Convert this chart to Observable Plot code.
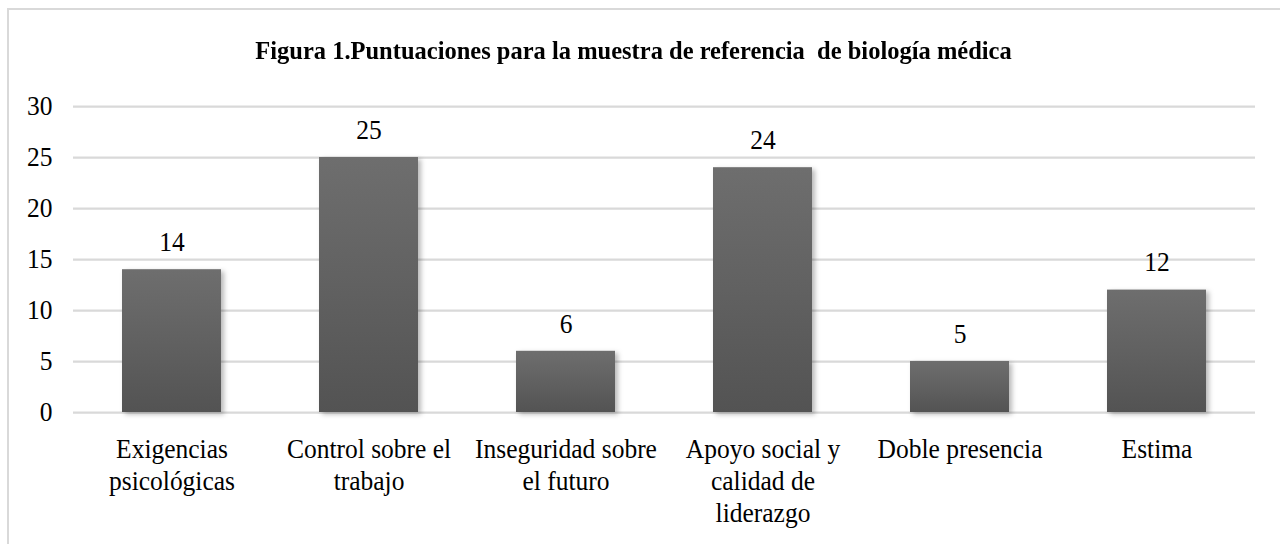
<!DOCTYPE html>
<html>
<head>
<meta charset="utf-8">
<script src="https://cdn.jsdelivr.net/npm/d3@7"></script>
<script src="https://cdn.jsdelivr.net/npm/@observablehq/plot@0.6"></script>
<style>
  html, body { margin: 0; padding: 0; background: #fff; }
  #page { position: relative; width: 1280px; height: 544px; overflow: hidden; }
  #frame { position: absolute; left: 7px; top: 8px; width: 1290px; height: 560px;
           border-left: 2.5px solid #d9d9d9; border-top: 2.5px solid #d9d9d9; box-sizing: border-box; pointer-events: none; }
  #title { position: absolute; left: 0; top: 0; width: 1280px; height: 80px; box-sizing: border-box;
           padding-top: 38px; padding-right: 13px; text-align: center;
           font-family: "Liberation Serif", "Times New Roman", serif; font-weight: bold; font-size: 24.5px;
           line-height: 25px; color: #000; white-space: pre; transform: scaleY(1.05); transform-origin: 0 59px; }
  #chart { position: absolute; left: 0; top: 80px; }
  #chart svg, #chart svg text { font-family: "Liberation Serif", "Times New Roman", serif !important; }
  g[aria-label="bar"] rect { filter: drop-shadow(3px 2px 2.5px rgba(0,0,0,0.28)); }
</style>
</head>
<body>
<div id="page">
  <div id="frame"></div>
  <div id="title">Figura 1.Puntuaciones para la muestra de referencia  de biología médica</div>
  <div id="chart"></div>
</div>
<script>
const categories = [
  "Exigencias psicológicas",
  "Control sobre el trabajo",
  "Inseguridad sobre el futuro",
  "Apoyo social y calidad de liderazgo",
  "Doble presencia",
  "Estima"
];
const tickLabels = [
  "Exigencias\npsicológicas",
  "Control sobre el\ntrabajo",
  "Inseguridad sobre\nel futuro",
  "Apoyo social y\ncalidad de\nliderazgo",
  "Doble presencia",
  "Estima"
];
const values = [14, 25, 6, 24, 5, 12];
const yTicks = [0, 5, 10, 15, 20, 25, 30];

const data = categories.map((c, i) => ({category: c, value: values[i]}));
const labelOf = new Map(categories.map((c, i) => [c, tickLabels[i]]));

const s = 1.09;          // vertical stretch of the reference
const H = 464;           // css height of svg
const h = H / s;         // internal height
const yTopCss = 26, yBotCss = 332;
const serif = "Liberation Serif";
const fs = 25.5;

const plot = Plot.plot({
  width: 1280,
  height: h,
  marginLeft: 73,
  marginRight: 25,
  marginTop: yTopCss / s,
  marginBottom: h - yBotCss / s,
  style: { fontFamily: serif, fontSize: fs + "px", color: "#000", background: "transparent" },
  x: { domain: categories, paddingInner: 0.5, paddingOuter: 0.25, label: null },
  y: { domain: [0, 30], label: null },
  marks: [
    Plot.gridY(yTicks, { stroke: "#d9d9d9", strokeOpacity: 1, strokeWidth: 2 }),
    Plot.barY(data, { x: "category", y: "value", fill: "url(#barGrad)" }),
    Plot.text(data, { x: "category", y: "value", text: d => String(d.value), dy: -25.3, fill: "#000", fontFamily: serif, fontSize: fs }),
    Plot.axisY({ ticks: yTicks, tickSize: 0, tickPadding: 21, label: null, fill: "#000", fontFamily: serif, fontSize: fs }),
    Plot.axisX({ tickSize: 0, tickPadding: 20.8, lineHeight: 1.15, tickFormat: d => labelOf.get(d), label: null, fill: "#000", fontFamily: serif, fontSize: fs })
  ]
});

// vertical stretch
plot.setAttribute("height", H);
plot.setAttribute("preserveAspectRatio", "none");
plot.style.height = H + "px";

// gradient for bars
const svg = d3.select(plot);
const defs = svg.insert("defs", ":first-child");
const grad = defs.append("linearGradient").attr("id", "barGrad")
  .attr("x1", 0).attr("y1", 0).attr("x2", 0).attr("y2", 1);
const stops = [
  [0, "#6e6e6e"], [0.5, "#616161"], [1, "#535353"]
];
stops.forEach(([o, c]) => grad.append("stop").attr("offset", o).attr("stop-color", c));

document.getElementById("chart").appendChild(plot);
</script>
</body>
</html>
